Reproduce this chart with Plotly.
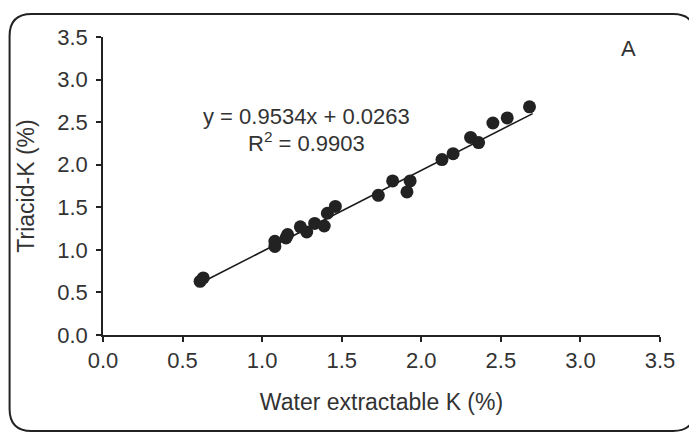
import plotly.graph_objects as go

# Data
water_k = [0.61, 0.63, 1.08, 1.08, 1.15, 1.16, 1.24, 1.28, 1.33, 1.39, 1.41, 1.46,
           1.73, 1.82, 1.93, 1.91, 2.13, 2.20, 2.31, 2.36, 2.45, 2.54, 2.68]
triacid_k = [0.63, 0.67, 1.04, 1.10, 1.14, 1.18, 1.27, 1.21, 1.31, 1.28, 1.43, 1.51,
             1.64, 1.81, 1.81, 1.68, 2.06, 2.13, 2.32, 2.26, 2.49, 2.55, 2.68]
slope = 0.9534
intercept = 0.0263
fit_x = [0.61, 2.70]
fit_y = [slope * v + intercept for v in fit_x]
tick_vals = [0.0, 0.5, 1.0, 1.5, 2.0, 2.5, 3.0, 3.5]
tick_text = ["0.0", "0.5", "1.0", "1.5", "2.0", "2.5", "3.0", "3.5"]

OFF = 8  # page body margin
W, H = 697 - OFF, 434 - OFF
ML, MR, MT, MB = 102.5 - OFF, 37, 37 - OFF, 99
PW, PH = W - ML - MR, H - MT - MB

def px(x):
    return (x - OFF - ML) / PW

def py(y):
    return (H - MB - (y - OFF)) / PH

FONT = "Liberation Sans, Arial, sans-serif"
TXT = "#333333"

fig = go.Figure()
fig.add_trace(go.Scatter(x=fit_x, y=fit_y, mode="lines",
                         line=dict(color="#1a1a1a", width=1.6), hoverinfo="skip"))
fig.add_trace(go.Scatter(x=water_k, y=triacid_k, mode="markers",
                         marker=dict(color="#222222", size=13)))

# rounded frame
l, t, r, b, rad = 9, 14, 695, 431, 22
def P(x, y):
    return f"{px(x):.5f},{py(y):.5f}"
path = (f"M {P(l+rad, t)} L {P(r-rad, t)} Q {P(r, t)} {P(r, t+rad)} "
        f"L {P(r, b-rad)} Q {P(r, b)} {P(r-rad, b)} L {P(l+rad, b)} "
        f"Q {P(l, b)} {P(l, b-rad)} L {P(l, t+rad)} Q {P(l, t)} {P(l+rad, t)} Z")
fig.add_shape(type="path", xref="paper", yref="paper", path=path,
              line=dict(color="#222222", width=2))

for txt, x, y in [("y = 0.9534x + 0.0263", 306, 116),
                  ("R<sup>2</sup> = 0.9903", 306, 142),
                  ("A", 628, 48)]:
    fig.add_annotation(x=px(x), y=py(y), xref="paper", yref="paper",
                       xanchor="center", yanchor="middle",
                       text=txt, showarrow=False,
                       font=dict(family=FONT, size=22, color=TXT))

axis_common = dict(range=[0, 3.5], tickvals=tick_vals, ticktext=tick_text,
                   showgrid=False, zeroline=False, showline=True,
                   linecolor="#222222", linewidth=1.5, ticks="outside",
                   ticklen=5, tickwidth=1.5, tickcolor="#222222",
                   tickfont=dict(family=FONT, size=22, color=TXT),
                   fixedrange=True, automargin=False)

fig.update_layout(
    width=W, height=H,
    margin=dict(l=ML, r=MR, t=MT, b=MB),
    paper_bgcolor="white", plot_bgcolor="white",
    showlegend=False,
    xaxis=dict(**axis_common,
               title=dict(text="Water extractable K (%)", standoff=22,
                          font=dict(family=FONT, size=23, color=TXT))),
    yaxis=dict(**axis_common, ticklabelstandoff=4,
               title=dict(text="Triacid-K (%)", standoff=16,
                          font=dict(family=FONT, size=23, color=TXT))),
)

fig.write_html("out.html")
